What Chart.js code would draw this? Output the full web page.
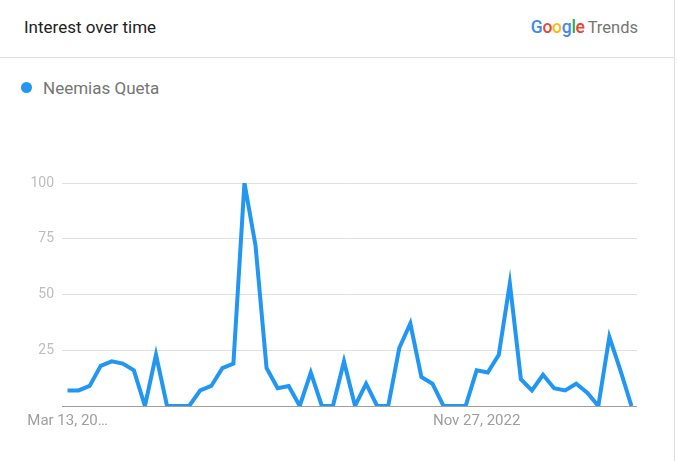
<!DOCTYPE html>
<html>
<head>
<meta charset="utf-8">
<script src="https://cdn.jsdelivr.net/npm/chart.js@4/dist/chart.umd.min.js"></script>
<style>
  html, body { margin: 0; padding: 0; background: #fff; font-family: Roboto, sans-serif; }
  #card { position: relative; width: 674px; height: 461px; border-right: 1px solid #e0e0e0; overflow: hidden; }
  #header { position: absolute; left: 0; top: 0; width: 674px; height: 57px; border-bottom: 1px solid #e0e0e0; }
  #title { position: absolute; left: 24px; top: 17px; font-size: 17px; color: #222; }
  #logo { position: absolute; right: 36px; top: 17px; white-space: nowrap; }
  #logo .g { font-size: 17.5px; font-weight: 500; letter-spacing: -0.3px; }
  #logo .t { font-size: 16.5px; color: #757575; margin-left: 3px; }
  #legend { position: absolute; left: 21px; top: 78px; font-size: 17px; color: #757575; }
  #legend .dot { display: inline-block; width: 11px; height: 11px; border-radius: 50%; background: #2196f3; margin-right: 11px; vertical-align: 1px; }
  #wrap { position: absolute; left: 0; top: 110px; width: 674px; height: 351px; }
</style>
</head>
<body>
<div id="card">
  <div id="header">
    <div id="title">Interest over time</div>
    <div id="logo"><span class="g"><span style="color:#4285f4">G</span><span style="color:#ea4335">o</span><span style="color:#fbbc05">o</span><span style="color:#4285f4">g</span><span style="color:#34a853">l</span><span style="color:#ea4335">e</span></span><span class="t">Trends</span></div>
  </div>
  <div id="legend"><span class="dot"></span><span id="serie-nombre"></span></div>
  <div id="wrap"><canvas id="grafica"></canvas></div>
</div>
<script>
// --- Datos ---
const serieNombre = 'Neemias Queta';
const semanas = [
  'Mar 13, 2022', 'Mar 20, 2022', 'Mar 27, 2022', 'Apr 3, 2022', 'Apr 10, 2022', 'Apr 17, 2022',
  'Apr 24, 2022', 'May 1, 2022', 'May 8, 2022', 'May 15, 2022', 'May 22, 2022', 'May 29, 2022',
  'Jun 5, 2022', 'Jun 12, 2022', 'Jun 19, 2022', 'Jun 26, 2022', 'Jul 3, 2022', 'Jul 10, 2022',
  'Jul 17, 2022', 'Jul 24, 2022', 'Jul 31, 2022', 'Aug 7, 2022', 'Aug 14, 2022', 'Aug 21, 2022',
  'Aug 28, 2022', 'Sep 4, 2022', 'Sep 11, 2022', 'Sep 18, 2022', 'Sep 25, 2022', 'Oct 2, 2022',
  'Oct 9, 2022', 'Oct 16, 2022', 'Oct 23, 2022', 'Oct 30, 2022', 'Nov 6, 2022', 'Nov 13, 2022',
  'Nov 20, 2022', 'Nov 27, 2022', 'Dec 4, 2022', 'Dec 11, 2022', 'Dec 18, 2022', 'Dec 25, 2022',
  'Jan 1, 2023', 'Jan 8, 2023', 'Jan 15, 2023', 'Jan 22, 2023', 'Jan 29, 2023', 'Feb 5, 2023',
  'Feb 12, 2023', 'Feb 19, 2023', 'Feb 26, 2023', 'Mar 5, 2023'
];
const interes = [
  7, 7, 9, 18, 20, 19, 16, 0, 23, 0, 0, 0,
  7, 9, 17, 19, 100, 72, 17, 8, 9, 0, 15, 0,
  0, 20, 0, 10, 0, 0, 26, 37, 13, 10, 0, 0,
  0, 16, 15, 23, 55, 12, 7, 14, 8, 7, 10, 6,
  0, 31, 16, 0
];
const ejeXFechas = ['Mar 13, 2022', 'Nov 27, 2022'];
const ejeXTextos = ['Mar 13, 20\u2026', 'Nov 27, 2022'];
const ejeYTicks = [0, 25, 50, 75, 100];

document.getElementById('serie-nombre').textContent = serieNombre;

// --- Grafica ---
new Chart(document.getElementById('grafica'), {
  type: 'line',
  data: {
    labels: semanas,
    datasets: [{
      label: serieNombre,
      data: interes,
      borderColor: '#2196f3',
      borderWidth: 4,
      pointRadius: 0,
      tension: 0,
      fill: false
    }]
  },
  options: {
    responsive: true,
    maintainAspectRatio: false,
    animation: false,
    layout: { padding: { top: 73, right: 37, bottom: 0, left: 0 } },
    plugins: { legend: { display: false }, tooltip: { enabled: false } },
    scales: {
      x: {
        offset: true,
        grid: { display: false, drawTicks: false },
        border: { display: false },
        afterFit: s => { s.height = 55; },
        ticks: {
          autoSkip: false,
          maxRotation: 0,
          padding: 6,
          color: '#9e9e9e',
          font: { family: 'Roboto', size: 15 },
          callback: function(v, i) {
            const k = ejeXFechas.indexOf(semanas[i]);
            return k >= 0 ? ejeXTextos[k] : '';
          }
        }
      },
      y: {
        min: 0,
        max: 100,
        afterFit: s => { s.width = 62; },
        afterBuildTicks: s => { s.ticks = ejeYTicks.map(v => ({ value: v })); },
        border: { display: false },
        grid: {
          drawTicks: false,
          color: c => c.tick && c.tick.value === 0 ? '#9e9e9e' : '#e0e0e0'
        },
        ticks: {
          padding: 8,
          color: '#bdbdbd',
          font: { family: 'Roboto', size: 14 },
          callback: v => v === 0 ? '' : String(v)
        }
      }
    }
  }
});
</script>
</body>
</html>
